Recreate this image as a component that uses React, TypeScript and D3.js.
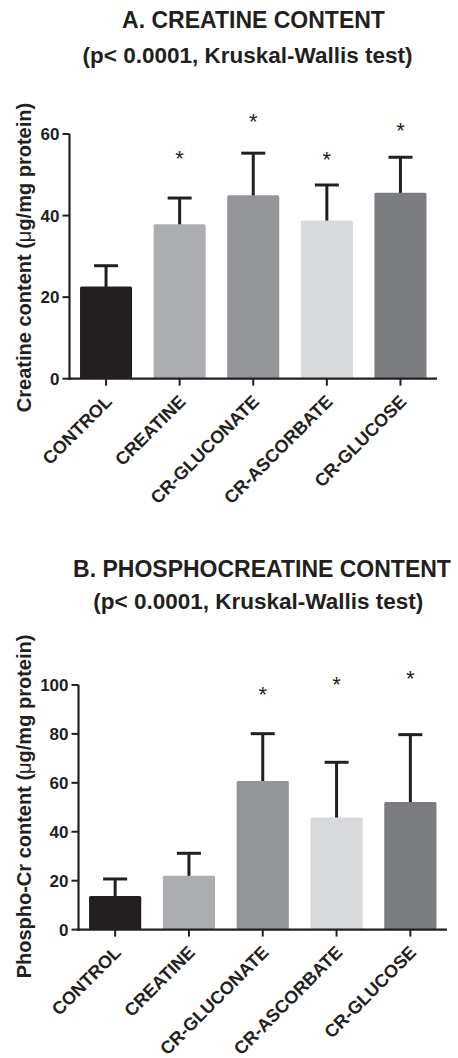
import React from "react";
import * as d3 from "d3";

const categories = ["CONTROL", "CREATINE", "CR-GLUCONATE", "CR-ASCORBATE", "CR-GLUCOSE"];
const barColors = ["#231f20", "#acadb0", "#939598", "#d8d9db", "#7b7c80"];

const creatineMeans = [22.6, 37.9, 45.0, 38.8, 45.6];
const creatineSD = [5.1, 6.4, 10.3, 8.7, 8.7];
const creatineStars: (number | null)[] = [null, 55.3, 64.3, 54.9, 62.0];
const creatineTicks = [0, 20, 40, 60];

const pcrMeans = [13.7, 22.0, 60.8, 45.8, 52.2];
const pcrSD = [7.0, 9.2, 19.3, 22.6, 27.5];
const pcrStars: (number | null)[] = [null, null, 98.0, 102.1, 104.9];
const pcrTicks = [0, 20, 40, 60, 80, 100];

const FONT = "'Liberation Sans', Arial, Helvetica, sans-serif";
const INK = "#231f20";

type PanelProps = {
  title1: string;
  title2: string;
  t1x: number;
  t2x: number;
  t1y: number;
  t2y: number;
  yLabelMain: string;
  yLabelCenter: number;
  means: number[];
  sds: number[];
  stars: (number | null)[];
  ticks: number[];
  xRange: [number, number];
  yRange: [number, number];
};

function Panel(p: PanelProps) {
  const x = d3
    .scaleBand<string>()
    .domain(categories)
    .range(p.xRange)
    .paddingInner(0.293)
    .paddingOuter(0.143);
  const y = d3
    .scaleLinear()
    .domain([0, p.ticks[p.ticks.length - 1]])
    .range(p.yRange);
  const x0 = p.xRange[0];
  const y0 = y(0);
  const bw = x.bandwidth();
  return (
    <g fontFamily={FONT} fill={INK}>
      <text x={p.t1x} y={p.t1y} textAnchor="middle" fontSize={23} fontWeight="bold">
        {p.title1}
      </text>
      <text x={p.t2x} y={p.t2y} textAnchor="middle" fontSize={22.5} fontWeight="bold">
        {p.title2}
      </text>
      <text
        transform={`translate(30.5,${p.yLabelCenter}) rotate(-90)`}
        textAnchor="middle"
        fontSize={20}
        fontWeight="bold"
      >
        {p.yLabelMain + " ("}
        <tspan fontWeight="normal">μ</tspan>
        {"g/mg protein)"}
      </text>
      {categories.map((c, i) => {
        const cx = (x(c) as number) + bw / 2;
        const top = y(p.means[i]);
        const et = y(p.means[i] + p.sds[i]);
        return (
          <g key={c}>
            <line x1={cx} x2={cx} y1={top + 1} y2={et} stroke={INK} strokeWidth={3} />
            <line x1={cx - 12} x2={cx + 12} y1={et} y2={et} stroke={INK} strokeWidth={3} />
            <rect x={x(c)} y={top} width={bw} height={y0 - top} fill={barColors[i]} rx={1.5} />
            {p.stars[i] !== null && (
              <text x={cx} y={y(p.stars[i] as number) + 12.5} textAnchor="middle" fontSize={22}>
                *
              </text>
            )}
          </g>
        );
      })}
      {/* y axis */}
      <line x1={x0} x2={x0} y1={y(p.ticks[p.ticks.length - 1])} y2={y0 + 1} stroke={INK} strokeWidth={2.2} />
      {p.ticks.map((t) => (
        <g key={t}>
          <line x1={x0 - 7} x2={x0} y1={y(t)} y2={y(t)} stroke={INK} strokeWidth={2} />
          <text x={x0 - 10} y={y(t) + 6} textAnchor="end" fontSize={17} fontWeight="bold">
            {t}
          </text>
        </g>
      ))}
      {/* x axis */}
      <line x1={x0 - 1} x2={p.xRange[1]} y1={y0} y2={y0} stroke={INK} strokeWidth={2.2} />
      {categories.map((c) => {
        const cx = (x(c) as number) + bw / 2;
        return (
          <g key={"t" + c}>
            <line x1={cx} x2={cx} y1={y0} y2={y0 + 7} stroke={INK} strokeWidth={2} />
            <text
              transform={`translate(${cx + 7},${y0 + 24}) rotate(-45)`}
              textAnchor="end"
              fontSize={18}
              fontWeight="bold"
            >
              {c}
            </text>
          </g>
        );
      })}
    </g>
  );
}

export default function App() {
  return (
    <svg
      width={458}
      height={1058}
      style={{ position: "absolute", left: 0, top: 0, background: "#fff" }}
    >
      <rect width={458} height={1058} fill="#fff" />
      <Panel
        title1="A. CREATINE CONTENT"
        title2="(p< 0.0001, Kruskal-Wallis test)"
        t1x={253.5}
        t2x={247.5}
        t1y={28.3}
        t2y={62.5}
        yLabelMain="Creatine content"
        yLabelCenter={257.5}
        means={creatineMeans}
        sds={creatineSD}
        stars={creatineStars}
        ticks={creatineTicks}
        xRange={[69.5, 437]}
        yRange={[378.7, 134]}
      />
      <Panel
        title1="B. PHOSPHOCREATINE CONTENT"
        title2="(p< 0.0001, Kruskal-Wallis test)"
        t1x={262}
        t2x={258.3}
        t1y={576.5}
        t2y={609}
        yLabelMain="Phospho-Cr content"
        yLabelCenter={806.5}
        means={pcrMeans}
        sds={pcrSD}
        stars={pcrStars}
        ticks={pcrTicks}
        xRange={[78.5, 447]}
        yRange={[929.6, 685]}
      />
    </svg>
  );
}
